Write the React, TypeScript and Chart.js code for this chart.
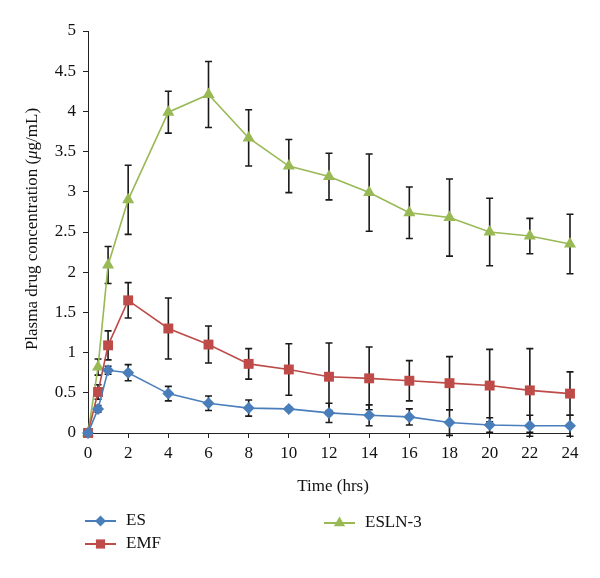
import React, { useEffect, useRef } from "react";
import { Chart, registerables } from "chart.js";

Chart.register(...registerables);

const timeHrs = [0, 0.5, 1, 2, 4, 6, 8, 10, 12, 14, 16, 18, 20, 22, 24];
const esValues = [0, 0.3, 0.78, 0.75, 0.49, 0.37, 0.31, 0.3, 0.25, 0.22, 0.2, 0.13, 0.1, 0.09, 0.09];
const esErrors = [0, 0.04, 0.05, 0.1, 0.09, 0.09, 0.1, 0.02, 0.12, 0.13, 0.1, 0.16, 0.09, 0.13, 0.13];
const emfValues = [0, 0.51, 1.09, 1.65, 1.3, 1.1, 0.86, 0.79, 0.7, 0.68, 0.65, 0.62, 0.59, 0.53, 0.49];
const emfErrors = [0, 0.09, 0.18, 0.22, 0.38, 0.23, 0.19, 0.32, 0.42, 0.39, 0.25, 0.33, 0.45, 0.52, 0.27];
const eslnValues = [0, 0.82, 2.09, 2.9, 3.99, 4.21, 3.67, 3.32, 3.19, 2.99, 2.74, 2.68, 2.5, 2.45, 2.35];
const eslnErrors = [0, 0.1, 0.23, 0.43, 0.26, 0.41, 0.35, 0.33, 0.29, 0.48, 0.32, 0.48, 0.42, 0.22, 0.37];

const seriesNames = ["ES", "EMF", "ESLN-3"];
const xTitle = "Time (hrs)";
const yTitleParts = ["Plasma drug concentration (", "\u03bc", "g/mL)"];

const FONT = "'Liberation Serif', 'DejaVu Serif', serif";
const COLORS = ["#4A7EBB", "#BE4B48", "#98B954"];

function drawMarker(ctx: CanvasRenderingContext2D, style: string, x: number, y: number, r: number, color: string) {
  ctx.save();
  ctx.fillStyle = color;
  ctx.beginPath();
  if (style === "rectRot") {
    ctx.moveTo(x, y - r);
    ctx.lineTo(x + r, y);
    ctx.lineTo(x, y + r);
    ctx.lineTo(x - r, y);
  } else if (style === "rect") {
    const s = r * Math.SQRT1_2;
    ctx.rect(x - s, y - s, 2 * s, 2 * s);
  } else {
    ctx.moveTo(x, y - r);
    ctx.lineTo(x + r * 0.866, y + r * 0.5);
    ctx.lineTo(x - r * 0.866, y + r * 0.5);
  }
  ctx.closePath();
  ctx.fill();
  ctx.restore();
}

export default function App() {
  const canvasRef = useRef<HTMLCanvasElement | null>(null);

  useEffect(() => {
    document.body.style.margin = "0";
    const canvas = canvasRef.current;
    if (!canvas) return;

    const errorSets = [esErrors, emfErrors, eslnErrors];
    const pointStyles = ["rectRot", "rect", "triangle"];
    const radii = [6, 7, 7];

    const errorBarPlugin = {
      id: "errorBars",
      beforeDatasetsDraw(chart: any) {
        const ctx = chart.ctx;
        const xs = chart.scales.x;
        const ys = chart.scales.y;
        ctx.save();
        ctx.strokeStyle = "#1a1a1a";
        ctx.lineWidth = 1.6;
        chart.data.datasets.forEach((ds: any, di: number) => {
          const errs = errorSets[di];
          ds.data.forEach((p: any, i: number) => {
            const e = errs[i];
            if (!e) return;
            const px = xs.getPixelForValue(p.x);
            const top = ys.getPixelForValue(p.y + e);
            const bot = ys.getPixelForValue(p.y - e);
            ctx.beginPath();
            ctx.moveTo(px, top);
            ctx.lineTo(px, bot);
            ctx.moveTo(px - 3.5, top);
            ctx.lineTo(px + 3.5, top);
            ctx.moveTo(px - 3.5, bot);
            ctx.lineTo(px + 3.5, bot);
            ctx.stroke();
          });
        });
        ctx.restore();
      },
    };

    const textPlugin = {
      id: "customText",
      afterDraw(chart: any) {
        const ctx = chart.ctx;
        ctx.save();
        ctx.fillStyle = "#111";
        ctx.textBaseline = "middle";
        // x title
        ctx.font = `17px ${FONT}`;
        ctx.textAlign = "center";
        ctx.fillText(xTitle, 333, 487);
        // y title
        ctx.translate(33, 229);
        ctx.rotate(-Math.PI / 2);
        ctx.textAlign = "left";
        const fonts = [`17px ${FONT}`, `italic 17px ${FONT}`, `17px ${FONT}`];
        let total = 0;
        yTitleParts.forEach((t, i) => {
          ctx.font = fonts[i];
          total += ctx.measureText(t).width;
        });
        let cx = -total / 2;
        yTitleParts.forEach((t, i) => {
          ctx.font = fonts[i];
          ctx.fillText(t, cx, 0);
          cx += ctx.measureText(t).width;
        });
        ctx.restore();

        // legend
        const legendPos = [
          { x: 85, y: 521 },
          { x: 85, y: 544 },
          { x: 324, y: 523 },
        ];
        ctx.save();
        seriesNames.forEach((name, i) => {
          const { x, y } = legendPos[i];
          ctx.strokeStyle = COLORS[i];
          ctx.lineWidth = 2;
          ctx.beginPath();
          ctx.moveTo(x, y);
          ctx.lineTo(x + 31, y);
          ctx.stroke();
          drawMarker(ctx, pointStyles[i], x + 15.5, y, radii[i] - 0.5, COLORS[i]);
          ctx.fillStyle = "#111";
          ctx.font = `17px ${FONT}`;
          ctx.textAlign = "left";
          ctx.textBaseline = "middle";
          ctx.fillText(name, x + 41, y);
        });
        ctx.restore();
      },
    };

    const valueSets = [esValues, emfValues, eslnValues];
    const chart = new Chart(canvas, {
      type: "line",
      data: {
        datasets: seriesNames.map((name, i) => ({
          label: name,
          data: timeHrs.map((t, j) => ({ x: t, y: valueSets[i][j] })),
          borderColor: COLORS[i],
          backgroundColor: COLORS[i],
          pointBackgroundColor: COLORS[i],
          pointBorderColor: COLORS[i],
          pointStyle: pointStyles[i] as any,
          pointRadius: radii[i],
          pointBorderWidth: 0,
          borderWidth: 1.6,
          tension: 0,
          clip: false as any,
        })),
      },
      options: {
        responsive: false,
        animation: false,
        layout: { padding: { top: 31, right: 30, left: 0, bottom: 0 } },
        plugins: {
          legend: { display: false },
          tooltip: { enabled: false },
          title: { display: false },
        },
        scales: {
          x: {
            type: "linear",
            min: 0,
            max: 24,
            ticks: {
              stepSize: 2,
              color: "#111",
              font: { family: FONT, size: 17 },
              padding: 5,
              maxRotation: 0,
              callback: (v: any) => String(v),
            },
            grid: { drawOnChartArea: false, drawTicks: true, tickLength: 5, color: "#222" },
            border: { display: true, color: "#222", width: 1 },
            afterFit(scale: any) {
              scale.height = 145;
            },
          },
          y: {
            type: "linear",
            min: 0,
            max: 5,
            ticks: {
              stepSize: 0.5,
              color: "#111",
              font: { family: FONT, size: 17 },
              padding: 7,
              callback: (v: any) => String(Math.round(Number(v) * 10) / 10),
            },
            grid: { drawOnChartArea: false, drawTicks: true, tickLength: 5, color: "#222" },
            border: { display: true, color: "#222", width: 1 },
            afterFit(scale: any) {
              scale.width = 88;
            },
          },
        },
      },
      plugins: [errorBarPlugin, textPlugin],
    });

    return () => {
      chart.destroy();
    };
  }, []);

  return (
    <div style={{ width: 600, height: 578, background: "#fff" }}>
      <canvas ref={canvasRef} width={600} height={578} style={{ display: "block" }} />
    </div>
  );
}
